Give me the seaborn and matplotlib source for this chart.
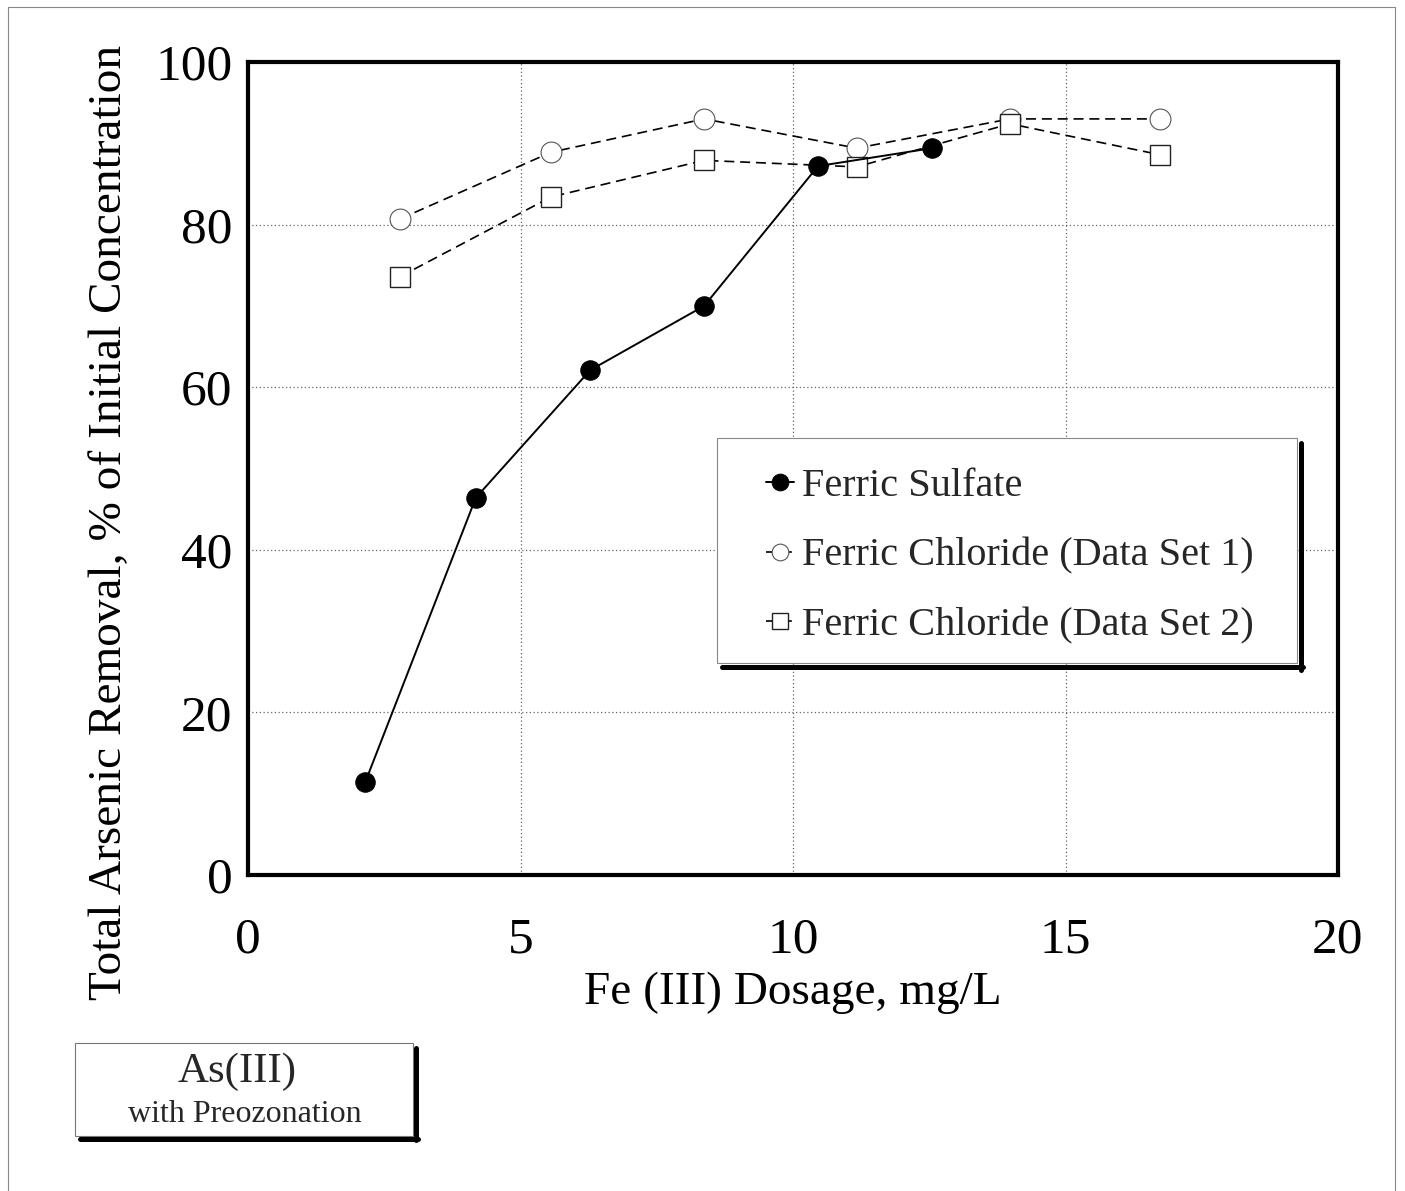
import matplotlib
matplotlib.use('Agg')
import matplotlib.pyplot as plt
import seaborn as sns
import pandas as pd
from matplotlib.lines import Line2D
from matplotlib.patches import Rectangle

# ---- data ----
sulfate_x = [2.15, 4.18, 6.28, 8.37, 10.46, 12.55]
sulfate_y = [11.4, 46.4, 62.1, 70.0, 87.2, 89.4]
chl1_x = [2.79, 5.56, 8.37, 11.17, 13.98, 16.73]
chl1_y = [80.7, 88.9, 93.0, 89.4, 93.0, 93.0]
chl2_x = [2.79, 5.56, 8.37, 11.17, 13.98, 16.73]
chl2_y = [73.6, 83.4, 87.9, 87.1, 92.4, 88.6]
labels = ["Ferric Sulfate", "Ferric Chloride (Data Set 1)", "Ferric Chloride (Data Set 2)"]
xticks = [0, 5, 10, 15, 20]
yticks = [0, 20, 40, 60, 80, 100]

sns.set_theme(style='white')
plt.rcParams['font.family'] = ['Liberation Serif', 'DejaVu Serif']

W, H = 1405, 1191
fig = plt.figure(figsize=(W / 100, H / 100), dpi=100)
ax = fig.add_axes([248 / W, 1 - 875 / H, (1338 - 248) / W, (875 - 62) / H])


def px(x, y):
    """figure pixel (from top-left) -> figure fraction"""
    return x / W, 1 - y / H


df1 = pd.DataFrame({'x': sulfate_x, 'y': sulfate_y})
df2 = pd.DataFrame({'x': chl1_x, 'y': chl1_y})
df3 = pd.DataFrame({'x': chl2_x, 'y': chl2_y})

sns.lineplot(data=df1, x='x', y='y', ax=ax, color='black', lw=1.4,
             marker='o', markersize=14, markerfacecolor='black',
             markeredgecolor='black', label=labels[0], zorder=5)
sns.lineplot(data=df2, x='x', y='y', ax=ax, color='black', lw=1.2,
             linestyle=(0, (6, 3.5)), marker='o', markersize=15,
             markerfacecolor='white', markeredgecolor='#555555',
             markeredgewidth=0.8, label=labels[1], zorder=4)
sns.lineplot(data=df3, x='x', y='y', ax=ax, color='black', lw=1.2,
             linestyle=(0, (6, 3.5)), marker='s', markersize=15,
             markerfacecolor='white', markeredgecolor='#222222',
             markeredgewidth=1.0, label=labels[2], zorder=4)

ax.set_xlim(0, 20)
ax.set_ylim(0, 100)
ax.set_xticks(xticks)
ax.set_yticks(yticks)
ax.set_xticklabels([str(t) for t in xticks])
ax.set_yticklabels([str(t) for t in yticks])
ax.tick_params(axis='both', length=0, labelsize=37, colors='black')
ax.tick_params(axis='x', pad=30)
ax.tick_params(axis='y', pad=11)
ax.grid(True, color='#666666', linestyle=(0, (1, 2)), lw=0.9)
for s in ax.spines.values():
    s.set_linewidth(3)
    s.set_color('black')

ax.set_xlabel("Fe (III) Dosage, mg/L", fontsize=34, labelpad=6, color='black')
ax.set_ylabel("Total Arsenic Removal, % of Initial Concentration", fontsize=34,
              color='black')
ax.yaxis.set_label_coords((131 - 248) / 1090, (875 - 522) / 813)

# legend frame + shadow drawn by hand
lx0, ly0 = px(717, 663)
lx1, ly1 = px(1297, 438)
fig.add_artist(Rectangle((lx0, ly0), lx1 - lx0, ly1 - ly0, transform=fig.transFigure,
                         facecolor='white', edgecolor='#888888', lw=0.8, zorder=8))
fig.add_artist(Line2D([px(1301, 0)[0]] * 2, [px(0, 670)[1], px(0, 443)[1]],
                      transform=fig.transFigure, color='black', lw=3.6, zorder=8))
fig.add_artist(Line2D([px(722, 0)[0], px(1303, 0)[0]], [px(0, 667)[1]] * 2,
                      transform=fig.transFigure, color='black', lw=3.6, zorder=8))

leg = ax.legend(loc='upper left',
                bbox_to_anchor=((766 - 248) / 1090, (875 - 468) / 813),
                fontsize=29, frameon=False, handlelength=0.7, handletextpad=0.2,
                labelspacing=0.8, borderpad=0, borderaxespad=0)
for h in leg.legend_handles:
    h.set_markersize(12)
fig.legends.append(ax.legend_)
ax.legend_ = None
leg.set_zorder(10)

# annotation box
bx0, by0 = px(75, 1136)
bx1, by1 = px(413, 1043)
fig.add_artist(Rectangle((bx0, by0), bx1 - bx0, by1 - by0, transform=fig.transFigure,
                         facecolor='white', edgecolor='#777777', lw=0.8))
fig.add_artist(Line2D([px(416, 0)[0]] * 2, [px(0, 1140)[1], px(0, 1048)[1]],
                      transform=fig.transFigure, color='black', lw=3.6))
fig.add_artist(Line2D([px(80, 0)[0], px(418, 0)[0]], [px(0, 1139)[1]] * 2,
                      transform=fig.transFigure, color='black', lw=3.6))
fig.text(*px(237, 1072), "As(III)", fontsize=31, ha='center', va='center')
fig.text(*px(245, 1115), "with Preozonation", fontsize=23, ha='center', va='center')

# outer frame
fig.add_artist(Line2D([8 / W, 8 / W, 1395 / W, 1395 / W], [0, 1 - 7 / H, 1 - 7 / H, 0],
                      transform=fig.transFigure, color='#888888', lw=0.8))

fig.savefig('out.png', dpi=100)
